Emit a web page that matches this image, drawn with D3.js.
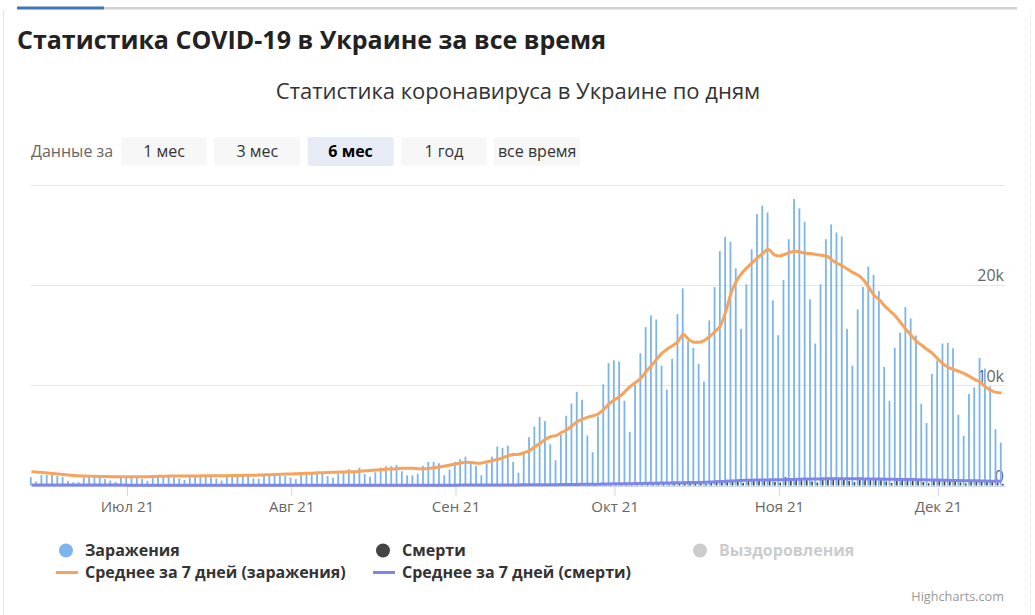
<!DOCTYPE html>
<html>
<head>
<meta charset="utf-8">
<script src="https://cdn.jsdelivr.net/npm/d3@7"></script>
<style>
  body { margin: 0; background: #fff; font-family: "Open Sans", sans-serif; }
  svg { display: block; }
</style>
</head>
<body>
<svg id="chart" width="1035" height="615"></svg>
<script>
// first day of the series, one value per day after it
const startDay = "2021-06-13"

// daily new cases, Jun 13 .. Dec 13
const cases = [
  830, 400, 1050, 1050, 1050, 950, 830, 450, 320, 350, 830, 830, 830, 750, 650, 500, 350, 830,
  830, 830, 830, 650, 450, 830, 860, 900, 900, 830, 700, 560, 830, 900, 900, 900, 830, 700,
  500, 900, 900, 1000, 1000, 1000, 700, 650, 1000, 950, 950, 950, 950,
  800, 630, 1150, 1150, 1220, 1220, 1150, 950, 770, 1220, 1350, 1620, 1420, 1780, 1150, 880,
  1320, 1780, 1920, 1920, 2050, 1420, 1020, 1020, 1180, 1950, 2350, 2350, 2220, 1020, 1580,
  2350, 2620, 2880, 2280, 1950, 1020, 2220, 2880, 3880, 3750, 3980, 2350, 1280, 3380, 4820,
  5880, 6850, 6420, 4120, 2520, 5050, 6950, 8180, 9350, 8550, 4980, 3320, 6880, 10080, 12200,
  12480, 12350, 8450, 5350, 10050, 13180, 15780, 16950, 16550, 11950, 9550, 12620, 17080,
  19650, 14380, 13720, 12120, 10350, 16450, 19780, 23350, 24780, 24280, 21650, 15620, 20050,
  23550, 27050, 27880, 27220, 18450,
  14980, 20480, 24550, 28550, 27620, 26280, 18550, 14150, 20050, 24550, 26020, 25220, 24820,
  15620, 11950, 17550, 19780, 21820, 21000, 19380, 11820, 8450, 13720, 15220, 17780, 16650,
  14950, 8150, 6220, 11120,
  12450, 14150, 14220, 13680, 7050, 4950, 9120, 9780, 12720, 11650, 9880, 5620, 4280
]

// 7-day average of cases, as drawn
const casesAvg = [
  1380, 1350, 1300, 1250, 1200, 1150, 1100, 1050, 1000, 970, 950, 930, 910, 900, 890, 880, 880, 870,
  870, 870, 870, 880, 880, 900, 920, 930, 940, 940, 940, 940, 950, 950, 960, 960, 970, 970,
  980, 980, 990, 1000, 1010, 1020, 1030, 1040, 1060, 1080, 1100, 1120, 1140,
  1150, 1170, 1190, 1210, 1230, 1260, 1280, 1300, 1320, 1340, 1350, 1370, 1380, 1420, 1460,
  1500, 1540, 1580, 1620, 1650, 1680, 1710, 1730, 1720, 1680, 1660, 1700, 1760, 1850, 1950, 2050,
  2150, 2250, 2320, 2300, 2230, 2250, 2380, 2480, 2620, 2780, 2980, 3080, 3120, 3280, 3480,
  3880, 4220, 4620, 4880, 4980, 5280, 5550, 5950, 6380, 6620, 6820, 6950, 7150, 7620, 8150,
  8550, 8880, 9380, 9880, 10280, 10720, 11380, 11980, 12620, 13220, 13620, 13950, 14380,
  15050, 14550, 14280, 14280, 14480, 14880, 15380, 15950, 17380, 19220, 20380, 21150, 21720,
  22220, 22720, 23150, 23550, 23050,
  22880, 23020, 23220, 23350, 23280, 23150, 23120, 23020, 22950, 22880, 22480, 22150, 21880,
  21550, 21220, 20950, 20480, 19720, 18950, 18480, 17880, 17380, 16880, 16220, 15550, 14950,
  14380, 13950, 13550, 13150,
  12620, 12120, 11780, 11550, 11380, 11150, 10880, 10550, 10280, 9820, 9480, 9280, 9220
]

// daily deaths
const deaths = [
  40, 20, 60, 70, 55, 50, 40, 30, 15, 50, 55, 45, 40, 35, 25, 20, 40, 45,
  40, 35, 25, 20, 15, 35, 40, 35, 30, 25, 20, 15, 30, 35, 30, 30, 25, 20, 15, 30, 35, 30,
  25, 25, 15, 15, 30, 30, 25, 25, 20,
  15, 10, 30, 30, 25, 25, 20, 15, 10, 30, 30, 30, 25, 25, 15, 10, 30, 35, 30, 30, 25, 20,
  15, 15, 30, 40, 45, 40, 30, 15, 35,
  45, 50, 50, 40, 30, 20, 55, 70, 75, 70, 65, 45, 30, 80, 110, 100, 95, 85, 60, 40, 120,
  140, 150, 140, 120, 80, 70, 160, 190, 200,
  190, 170, 110, 80, 230, 270, 260, 280, 240, 150, 110, 290, 340, 340, 280, 260, 210, 140,
  430, 480, 540, 560, 520, 390, 260, 600, 610, 620, 590, 520, 370,
  290, 830, 720, 720, 680, 620, 400, 290, 790, 800, 790, 740, 610, 460, 330, 780, 720, 700,
  640, 580, 400, 260, 760, 720, 660, 600, 530, 350, 230, 650,
  610, 580, 540, 460, 300, 200, 560, 520, 490, 430, 380, 250, 160
]

// 7-day average of deaths, as drawn
const deathsAvg = [
  60, 58, 56, 55, 53, 50, 48, 46, 45, 44, 43, 42, 41, 40, 40, 39, 38, 38,
  37, 36, 35, 34, 33, 32, 31, 30, 30, 29, 28, 28, 27, 27, 27, 26, 26, 26, 25, 25, 25, 25,
  25, 24, 24, 24, 24, 24, 23, 23, 23,
  23, 23, 23, 23, 23, 23, 23, 23, 23, 23, 24, 24, 24, 24, 24, 24, 25, 25, 26, 26, 26, 27,
  27, 27, 28, 29, 30, 31, 32, 33, 34,
  36, 38, 40, 41, 42, 43, 45, 48, 52, 55, 58, 60, 62, 65, 70, 74, 78, 81, 84, 87, 90, 97,
  104, 112, 120, 125, 130, 137, 145, 155,
  165, 172, 178, 182, 190, 200, 212, 225, 235, 242, 250, 262, 275, 285, 290, 295, 300, 320,
  345, 365, 390, 420, 450, 480, 500, 520, 535, 545, 555, 560, 565,
  570, 580, 595, 610, 625, 640, 650, 655, 660, 665, 670, 672, 672, 670, 668, 665, 660, 655,
  650, 640, 630, 620, 610, 605, 600, 595, 585, 575, 560, 550,
  540, 530, 515, 505, 495, 485, 475, 465, 455, 445, 435, 425, 415
]

const yTicks = [0, 10000, 20000, 30000]
const yLabelTicks = [0, 10000, 20000]
const monthStarts = ["2021-07-01", "2021-08-01", "2021-09-01", "2021-10-01", "2021-11-01", "2021-12-01"]
const monthLabels = ["Июл 21", "Авг 21", "Сен 21", "Окт 21", "Ноя 21", "Дек 21"]

const rangeButtons = ["1 мес", "3 мес", "6 мес", "1 год", "все время"]
const activeRange = "6 мес"

const legendTop = ["Заражения", "Смерти", "Выздоровления"]
const legendBottom = ["Среднее за 7 дней (заражения)", "Среднее за 7 дней (смерти)"]

const colors = {
  cases: "#7cb5ec",
  deaths: "#434348",
  recovered: "#cccccc",
  casesAvg: "#f7a35c",
  deathsAvg: "#8085e9"
}

const parseDay = d3.timeParse("%Y-%m-%d")
const day0 = parseDay(startDay)
const dayAt = i => d3.timeDay.offset(day0, i)

const plot = { left: 31.5, right: 1005, top: 184.5, bottom: 485.5 }

const svg = d3.select("#chart")

// page frame
svg.append("line").attr("x1", 3.5).attr("x2", 3.5).attr("y1", 10).attr("y2", 615)
  .attr("stroke", "#e3e3e3")
svg.append("line").attr("x1", 1030.5).attr("x2", 1030.5).attr("y1", 10).attr("y2", 615)
  .attr("stroke", "#e3e3e3").attr("stroke-dasharray", "1,1")
svg.append("rect").attr("x", 104).attr("y", 7).attr("width", 913).attr("height", 2.5)
  .attr("fill", "#d0d0d0")
svg.append("rect").attr("x", 17).attr("y", 6.5).attr("width", 87).attr("height", 3)
  .attr("fill", "#3f76b8")

svg.append("text")
  .attr("x", 17).attr("y", 49)
  .attr("font-size", 25).attr("font-weight", 700).attr("fill", "#222")
  .text("Статистика COVID-19 в Украине за все время")

svg.append("text")
  .attr("x", 518).attr("y", 99)
  .attr("text-anchor", "middle")
  .attr("font-size", 22).attr("fill", "#333")
  .text("Статистика коронавируса в Украине по дням")

// range selector
svg.append("text")
  .attr("x", 31).attr("y", 157)
  .attr("font-size", 16).attr("fill", "#666")
  .text("Данные за")

const btn = svg.selectAll("g.btn")
  .data(rangeButtons)
  .enter()
  .append("g")
  .attr("class", "btn")
  .attr("transform", (d, i) => "translate(" + (121 + i * 93.3) + ",137)")

btn.append("rect")
  .attr("width", 86).attr("height", 29).attr("rx", 2)
  .attr("fill", d => d === activeRange ? "#e6ebf5" : "#f7f7f7")

btn.append("text")
  .attr("x", 43).attr("y", 20)
  .attr("text-anchor", "middle")
  .attr("font-size", 16)
  .attr("font-weight", d => d === activeRange ? 700 : 400)
  .attr("fill", d => d === activeRange ? "#000" : "#333")
  .text(d => d)

// scales
const x = d3.scaleTime()
  .domain([day0, d3.timeHour.offset(dayAt(cases.length - 1), 16)])
  .range([plot.left, plot.right])

const y = d3.scaleLinear()
  .domain([0, 30000])
  .range([plot.bottom, plot.top])

// grid
svg.append("g")
  .selectAll("line")
  .data(yTicks.filter(v => v > 0))
  .enter()
  .append("line")
  .attr("x1", plot.left - 0.5).attr("x2", plot.right)
  .attr("y1", d => Math.round(y(d)) + 0.5).attr("y2", d => Math.round(y(d)) + 0.5)
  .attr("stroke", "#e6e6e6")

svg.append("g")
  .selectAll("text")
  .data(yLabelTicks)
  .enter()
  .append("text")
  .attr("x", 1004).attr("y", d => y(d) - 3.5)
  .attr("text-anchor", "end")
  .attr("font-size", 16).attr("fill", "#666")
  .text(d3.format("~s"))

// x axis
const xAxis = svg.append("g")
  .attr("transform", "translate(0," + (plot.bottom + 0.5) + ")")
  .call(d3.axisBottom(x)
    .tickValues(monthStarts.map(parseDay))
    .tickFormat((d, i) => monthLabels[i])
    .tickSize(10)
    .tickSizeOuter(0)
    .tickPadding(5))

xAxis.select(".domain").attr("stroke", "#ccd6eb")
xAxis.selectAll(".tick line").attr("stroke", "#ccd6eb")
xAxis.selectAll(".tick text")
  .attr("font-family", "Open Sans, sans-serif")
  .attr("font-size", 15).attr("fill", "#666")

// columns
svg.append("g")
  .selectAll("rect")
  .data(cases)
  .enter()
  .append("rect")
  .attr("x", (d, i) => x(dayAt(i)) - 1.6)
  .attr("y", d => y(d))
  .attr("width", 1.8)
  .attr("height", d => plot.bottom - y(d))
  .attr("fill", colors.cases)

svg.append("g")
  .selectAll("rect")
  .data(deaths)
  .enter()
  .append("rect")
  .attr("x", (d, i) => x(dayAt(i)) + 0.6)
  .attr("y", d => y(d))
  .attr("width", 1.6)
  .attr("height", d => plot.bottom - y(d))
  .attr("fill", colors.deaths)

// averages
const avgLine = d3.line()
  .x((d, i) => x(dayAt(i)))
  .y(d => y(d))
  .curve(d3.curveMonotoneX)

svg.append("path")
  .datum(deathsAvg)
  .attr("d", avgLine)
  .attr("fill", "none")
  .attr("stroke", colors.deathsAvg)
  .attr("stroke-width", 3)
  .attr("stroke-linejoin", "round")

svg.append("path")
  .datum(casesAvg)
  .attr("d", avgLine)
  .attr("fill", "none")
  .attr("stroke", colors.casesAvg)
  .attr("stroke-width", 3)
  .attr("stroke-linejoin", "round")

// legend
const topX = [66, 383, 700]
const topColors = [colors.cases, colors.deaths, colors.recovered]
const lg = svg.append("g").attr("font-size", 16).attr("font-weight", 700)

legendTop.forEach((label, i) => {
  lg.append("circle")
    .attr("cx", topX[i]).attr("cy", 550.5).attr("r", 7)
    .attr("fill", topColors[i])
  lg.append("text")
    .attr("x", topX[i] + 19).attr("y", 556)
    .attr("fill", i === 2 ? "#cccccc" : "#333")
    .text(label)
})

const bottomX = [56, 373]
const bottomColors = [colors.casesAvg, colors.deathsAvg]
legendBottom.forEach((label, i) => {
  lg.append("line")
    .attr("x1", bottomX[i]).attr("x2", bottomX[i] + 22)
    .attr("y1", 572.5).attr("y2", 572.5)
    .attr("stroke", bottomColors[i]).attr("stroke-width", 3)
  lg.append("text")
    .attr("x", bottomX[i] + 29).attr("y", 578)
    .attr("fill", "#333")
    .text(label)
})

svg.append("text")
  .attr("x", 1004).attr("y", 601)
  .attr("text-anchor", "end")
  .attr("font-size", 12.7).attr("fill", "#999")
  .text("Highcharts.com")
</script>
</body>
</html>
